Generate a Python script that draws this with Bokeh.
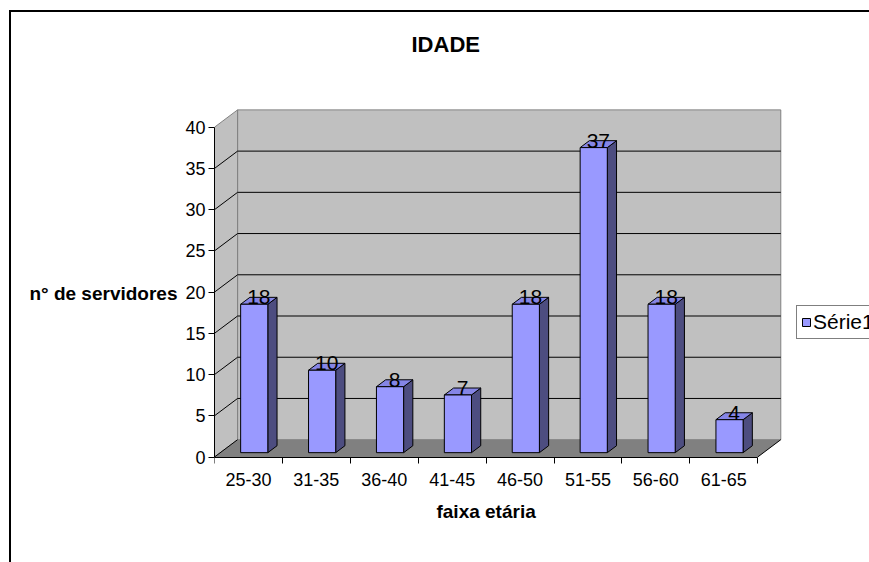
from bokeh.plotting import figure
from bokeh.models import Range1d, FixedTicker, Legend, LegendItem, Title
from bokeh.embed import file_html
from bokeh.resources import INLINE

# ---- data ----
title_text = "IDADE"
categories = ["25-30", "31-35", "36-40", "41-45", "46-50", "51-55", "56-60", "61-65"]
counts = [18, 10, 8, 7, 18, 37, 18, 4]
y_ticks = [0, 5, 10, 15, 20, 25, 30, 35, 40]
series_name = "Série1"
x_label = "faixa etária"
y_label = "n° de servidores"

# ---- layout / style ----
FONT = "Liberation Sans"
W, H = 869, 562
B_LEFT, B_TOP, B_BOTTOM = 214, 63, 40
PX_X = 67.9          # pixels per category
PX_Y = 8.245         # pixels per value unit
ZERO_PX = 456.5      # page y of the value 0
N = len(categories)
YMAX = y_ticks[-1]
DX = 0.34            # 3D depth, category units
DY = 2.1             # 3D depth, value units
BAR_W = 0.4
D0, D1 = 0.25, 0.65
LABEL_LIFT = 7.0     # px between bar front-top edge and value label centre
WALL = "#c0c0c0"
WALL_EDGE = "#808080"
FLOOR = "#808080"
FRONT = "#9999ff"
SIDE = "#4d4d80"
TOP = "#8585e6"

x_end = (W - B_LEFT) / PX_X
y_end = (ZERO_PX - B_TOP) / PX_Y
y_start = -((H - B_BOTTOM) - ZERO_PX) / PX_Y

p = figure(width=W, height=H, output_backend="svg", toolbar_location=None,
           x_range=Range1d(0, x_end), y_range=Range1d(y_start, y_end),
           min_border_left=B_LEFT, min_border_right=0, min_border_top=B_TOP,
           min_border_bottom=B_BOTTOM)
p.outline_line_color = None
p.grid.visible = False
p.background_fill_color = "white"
p.border_fill_color = "white"
p.stylesheets = [":host::after { content: ''; position: absolute; left: 9px; top: 10px; "
                 "width: calc(100% - 9px); height: calc(100% - 10px); "
                 "border-left: 2px solid black; border-top: 2px solid black; "
                 "box-sizing: border-box; pointer-events: none; z-index: 50; }"]

# walls and floor
p.quad(left=[DX], right=[N + DX], bottom=[DY], top=[YMAX + DY],
       fill_color=WALL, line_color=WALL_EDGE, line_width=1)
p.patch([0, DX, DX, 0], [0, DY, YMAX + DY, YMAX], fill_color=WALL, line_color=WALL_EDGE, line_width=1)
p.patch([0, N, N + DX, DX], [0, 0, DY, DY], fill_color=FLOOR, line_color=None)

# gridlines
gv = [v for v in y_ticks if 0 < v < YMAX]
p.segment(x0=[DX] * len(gv), y0=[v + DY for v in gv], x1=[N + DX] * len(gv), y1=[v + DY for v in gv],
          line_color="black", line_width=1)
lv = [v for v in y_ticks if v < YMAX]
p.segment(x0=[0] * len(lv), y0=lv, x1=[DX] * len(lv), y1=[v + DY for v in lv],
          line_color="black", line_width=1)
p.segment(x0=[N], y0=[0], x1=[N + DX], y1=[DY], line_color="black", line_width=1)

# bars
centers = [i + 0.5 for i in range(N)]
fl = [c - BAR_W / 2 + D0 * DX for c in centers]
fr = [c + BAR_W / 2 + D0 * DX for c in centers]
bl = [c - BAR_W / 2 + D1 * DX for c in centers]
br = [c + BAR_W / 2 + D1 * DX for c in centers]
side_xs = [[fr[i], br[i], br[i], fr[i]] for i in range(N)]
side_ys = [[D0 * DY, D1 * DY, counts[i] + D1 * DY, counts[i] + D0 * DY] for i in range(N)]
p.patches(side_xs, side_ys, fill_color=SIDE, line_color="black", line_width=1)
top_xs = [[fl[i], fr[i], br[i], bl[i]] for i in range(N)]
top_ys = [[counts[i] + D0 * DY, counts[i] + D0 * DY, counts[i] + D1 * DY, counts[i] + D1 * DY] for i in range(N)]
p.patches(top_xs, top_ys, fill_color=TOP, line_color="black", line_width=1)
front = p.quad(left=fl, right=fr, bottom=[D0 * DY] * N, top=[v + D0 * DY for v in counts],
               fill_color=FRONT, line_color="black", line_width=1)

# data labels
lx = [c + (D0 + D1) / 2 * DX for c in centers]
ly = [v + D0 * DY + LABEL_LIFT / PX_Y for v in counts]
p.text(x=lx, y=ly, text=[str(v) for v in counts], text_align="center", text_baseline="middle",
       text_font={"value": FONT}, text_font_size={"value": "21px"}, text_color="black")

# x axis title (inside the frame, centred under the category axis)
p.text(x=[N / 2], y=[-(511.0 - ZERO_PX) / PX_Y], text=[x_label], text_align="center",
       text_baseline="middle", text_font={"value": FONT}, text_font_style="bold",
       text_font_size={"value": "19px"}, text_color="black")

# axes
ya = p.yaxis[0]
ya.ticker = FixedTicker(ticks=y_ticks)
ya.bounds = (0, YMAX)
ya.major_tick_out = 6
ya.major_tick_in = 0
ya.minor_tick_line_color = None
ya.axis_line_color = "black"
ya.major_tick_line_color = "black"
ya.major_label_text_font = FONT
ya.major_label_text_font_size = "18px"
ya.major_label_text_color = "black"
ya.major_label_standoff = 3
ya.axis_label = y_label
ya.axis_label_orientation = "horizontal"
ya.axis_label_text_font = FONT
ya.axis_label_text_font_style = "bold"
ya.axis_label_text_font_size = "19px"
ya.axis_label_text_color = "black"
ya.axis_label_standoff = 5

xa = p.xaxis[0]
xa.fixed_location = 0
xa.ticker = FixedTicker(ticks=centers, minor_ticks=list(range(N + 1)))
xa.bounds = (0, N)
xa.major_label_overrides = {c: cat for c, cat in zip(centers, categories)}
xa.major_tick_line_color = None
xa.major_tick_out = 0
xa.major_tick_in = 0
xa.minor_tick_line_color = "black"
xa.minor_tick_out = 6
xa.minor_tick_in = 0
xa.axis_line_color = "black"
xa.major_label_text_font = FONT
xa.major_label_text_font_size = "18px"
xa.major_label_text_color = "black"
xa.major_label_standoff = 10

# title
p.add_layout(Title(text=title_text, align="left", offset=197, standoff=13, text_font=FONT,
                   text_font_style="bold", text_font_size="22px", text_color="black"), "above")

legend = Legend(items=[LegendItem(label=series_name, renderers=[front])],
                location=(582, (H - B_BOTTOM) - 338.5), margin=0, padding=4, spacing=0,
                glyph_width=10, glyph_height=10, label_standoff=2, label_height=23,
                label_text_font=FONT, label_text_font_size="21px", label_text_color="black",
                border_line_color="black", border_line_width=1, background_fill_color="white",
                background_fill_alpha=1)
p.add_layout(legend)

open("out.html", "w").write(file_html(p, INLINE))
